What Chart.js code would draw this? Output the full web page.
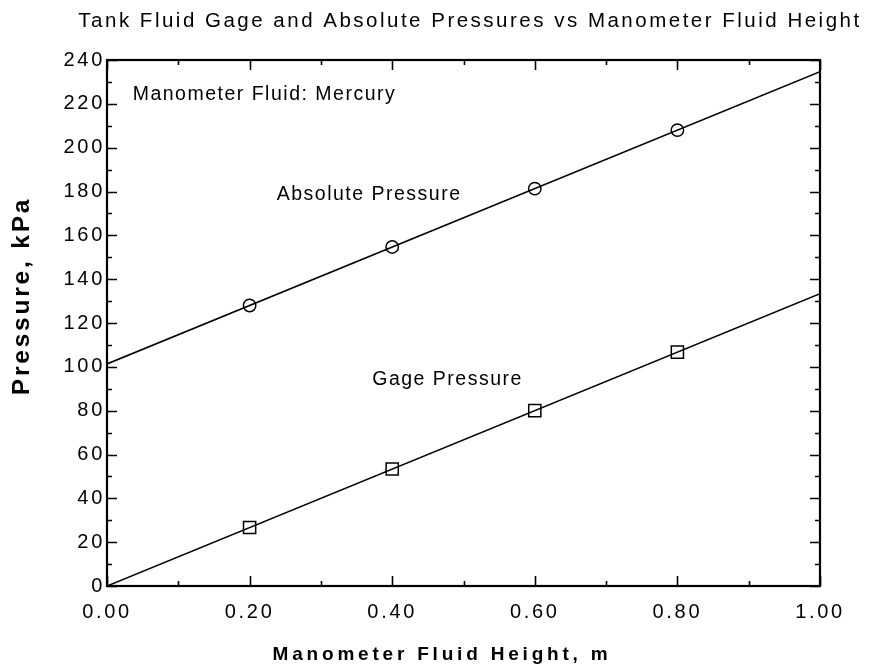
<!DOCTYPE html>
<html>
<head>
<meta charset="utf-8">
<script src="https://cdn.jsdelivr.net/npm/chart.js@4"></script>
<style>
  body { margin: 0; background: #fff; }
  canvas { display: block; }
</style>
</head>
<body>
<canvas id="pressureChart" width="892" height="666"></canvas>
<script>
// Measured points (m of mercury, kPa)
const heights = [0.2, 0.4, 0.6, 0.8];
const gagePressure = [26.7, 53.4, 80.0, 106.7];
const absPressure = [128.0, 154.7, 181.3, 208.0];

// Straight-line fits across the full axis
const fitHeights = [0, 1.0];
const gageFit = [0, 133.4];
const absFit = [101.3, 234.7];

// Text placed on the plot, anchored in data units
const noteText = ["Manometer Fluid: Mercury", "Absolute Pressure", "Gage Pressure"];
const noteX = [0.036, 0.238, 0.372];
const noteY = [221.7, 176.1, 91.7];

const chartTitle = "Tank Fluid Gage and Absolute Pressures vs Manometer Fluid Height";
const xTitle = "Manometer Fluid Height, m";
const yTitle = "Pressure, kPa";

const FONT = "'Liberation Sans', Arial, Helvetica, sans-serif";
const TICK_SPACING = "2.7px";

function pts(xs, ys) {
  return xs.map((x, i) => ({ x: x, y: ys[i] }));
}

function spacedText(ctx, text, x, y, font, spacing, align, baseline) {
  ctx.font = font;
  ctx.letterSpacing = spacing;
  ctx.textAlign = align;
  ctx.textBaseline = baseline;
  ctx.fillText(text, x, y);
}

// canvas state gets reset on resize, so reapply spacing before layout and draw
const spacingPlugin = {
  id: "spacing",
  beforeUpdate(chart) { chart.ctx.letterSpacing = TICK_SPACING; },
  beforeLayout(chart) { chart.ctx.letterSpacing = TICK_SPACING; },
  beforeDraw(chart) { chart.ctx.letterSpacing = TICK_SPACING; }
};

// frame, inward ticks on all four sides, titles and notes
const framePlugin = {
  id: "frame",
  afterDraw(chart) {
    const ctx = chart.ctx;
    const { left, right, top, bottom } = chart.chartArea;
    const xs = chart.scales.x, ys = chart.scales.y;
    ctx.save();
    ctx.strokeStyle = "#000";
    ctx.lineWidth = 1.6;
    ctx.beginPath();
    xs.ticks.forEach((t, i) => {
      const px = Math.round(xs.getPixelForValue(t.value)) + 0.5;
      const len = i % 2 === 0 ? 10 : 5;
      ctx.moveTo(px, bottom); ctx.lineTo(px, bottom - len);
      ctx.moveTo(px, top); ctx.lineTo(px, top + len);
    });
    ys.ticks.forEach((t, i) => {
      const py = Math.round(ys.getPixelForValue(t.value)) + 0.5;
      const len = i % 2 === 0 ? 10 : 5;
      ctx.moveTo(left, py); ctx.lineTo(left + len, py);
      ctx.moveTo(right, py); ctx.lineTo(right - len, py);
    });
    ctx.stroke();
    ctx.lineWidth = 2.2;
    ctx.strokeRect(left, top, right - left, bottom - top);

    ctx.fillStyle = "#000";
    noteText.forEach((s, i) => {
      spacedText(ctx, s, xs.getPixelForValue(noteX[i]), ys.getPixelForValue(noteY[i]),
        "19.5px " + FONT, "1.5px", "left", "alphabetic");
    });

    spacedText(ctx, chartTitle, 470, 27, "20.5px " + FONT, "2.5px", "center", "alphabetic");
    spacedText(ctx, xTitle, 442, 660, "bold 19px " + FONT, "3.8px", "center", "alphabetic");

    ctx.translate(22, 296);
    ctx.rotate(-Math.PI / 2);
    spacedText(ctx, yTitle, 0, 0, "bold 24.5px " + FONT, "2.8px", "center", "middle");
    ctx.restore();
  }
};

Chart.defaults.color = "#000";
Chart.defaults.font.family = FONT;

new Chart(document.getElementById("pressureChart"), {
  type: "scatter",
  data: {
    datasets: [
      {
        type: "line", data: pts(fitHeights, absFit),
        borderColor: "#000", borderWidth: 1.6, pointRadius: 0, fill: false
      },
      {
        type: "line", data: pts(fitHeights, gageFit),
        borderColor: "#000", borderWidth: 1.6, pointRadius: 0, fill: false
      },
      {
        data: pts(heights, absPressure), pointStyle: "circle", pointRadius: 6.2,
        backgroundColor: "#fff", borderColor: "#000", borderWidth: 1.5
      },
      {
        data: pts(heights, gagePressure), pointStyle: "rect", pointRadius: 8.6,
        backgroundColor: "#fff", borderColor: "#000", borderWidth: 1.5
      }
    ]
  },
  options: {
    responsive: false,
    animation: false,
    layout: { padding: { left: 0, right: 72, top: 60, bottom: 0 } },
    plugins: {
      legend: { display: false },
      tooltip: { enabled: false },
      title: { display: false }
    },
    scales: {
      x: {
        type: "linear", min: 0, max: 1,
        grid: { display: false, drawTicks: false },
        border: { display: false },
        ticks: {
          stepSize: 0.1, autoSkip: false, maxRotation: 0, padding: 14,
          font: { size: 20 },
          callback: (v, i) => (i % 2 === 0 ? v.toFixed(2) : "")
        },
        afterFit(scale) { scale.height = 80; }
      },
      y: {
        type: "linear", min: 0, max: 240,
        grid: { display: false, drawTicks: false },
        border: { display: false },
        ticks: {
          stepSize: 10, autoSkip: false, padding: 2,
          font: { size: 20 },
          callback: (v, i) => (i % 2 === 0 ? v : "")
        },
        afterFit(scale) { scale.width = 107; }
      }
    }
  },
  plugins: [spacingPlugin, framePlugin]
});
</script>
</body>
</html>
